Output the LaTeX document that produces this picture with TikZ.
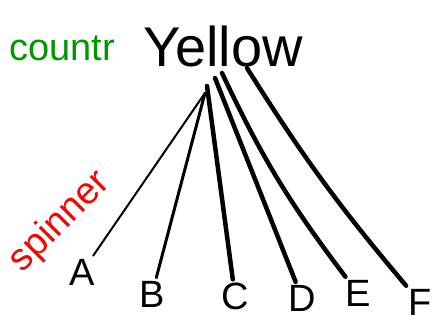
\documentclass[tikz,border=0pt]{standalone}
\usepackage{fontspec}
\setmainfont{Liberation Sans}
\usepackage{xcolor}
\usepackage{tikz}
\definecolor{mygreen}{RGB}{0,150,0}
\definecolor{myred}{RGB}{255,0,0}
\pgfkeys{tikz/myenv/.style={x=1pt,y=-1pt,line cap=round,line join=round}}
\pgfkeys{tikz/myleaf/.style={font=\fontsize{38}{38}\selectfont,inner sep=3pt}}
\pgfkeys{tikz/mybranch/.style={line width=4.5pt}}
\pgfkeys{tikz/mytwig/.style={line width=2pt}}
\begin{document}
\begin{tikzpicture}[myenv]
    \useasboundingbox (0,0) rectangle (436,326);
    \node[font=\fontsize{56}{56}\selectfont] (yellow) at (223,46) {Yellow};
    \node[font=\fontsize{38}{38}\selectfont,text=mygreen] (countr) at (62,48) {countr};
    \node[font=\fontsize{38}{38}\selectfont,text=myred,rotate=45] (spinner) at (60,222) {spinner};
    % leaves
    \node[myleaf] (A) at (82,272) {A};
    \node[myleaf] (B) at (152,294) {B};
    \node[myleaf] (C) at (235,296) {C};
    \node[myleaf] (D) at (302,298) {D};
    \node[myleaf] (E) at (358,293) {E};
    \node[myleaf] (F) at (420,302) {F};
    % roots under the word
    \coordinate (rootA) at (205,93);
    \coordinate (rootC) at (207,86);
    \coordinate (rootD) at (215,78);
    \coordinate (rootE) at (222,73);
    \coordinate (rootF) at (247,68);
    \draw[mytwig] (rootA) -- (A);
    \draw[mytwig,line width=3pt] (rootA) -- (B);
    \draw[mybranch] (rootC) -- (C);
    \draw[mybranch] (rootD) -- (D);
    \draw[mybranch] (rootE) to[bend right=6] (E);
    \draw[mybranch] (rootF) to[bend right=4] (F);
\end{tikzpicture}
\end{document}
